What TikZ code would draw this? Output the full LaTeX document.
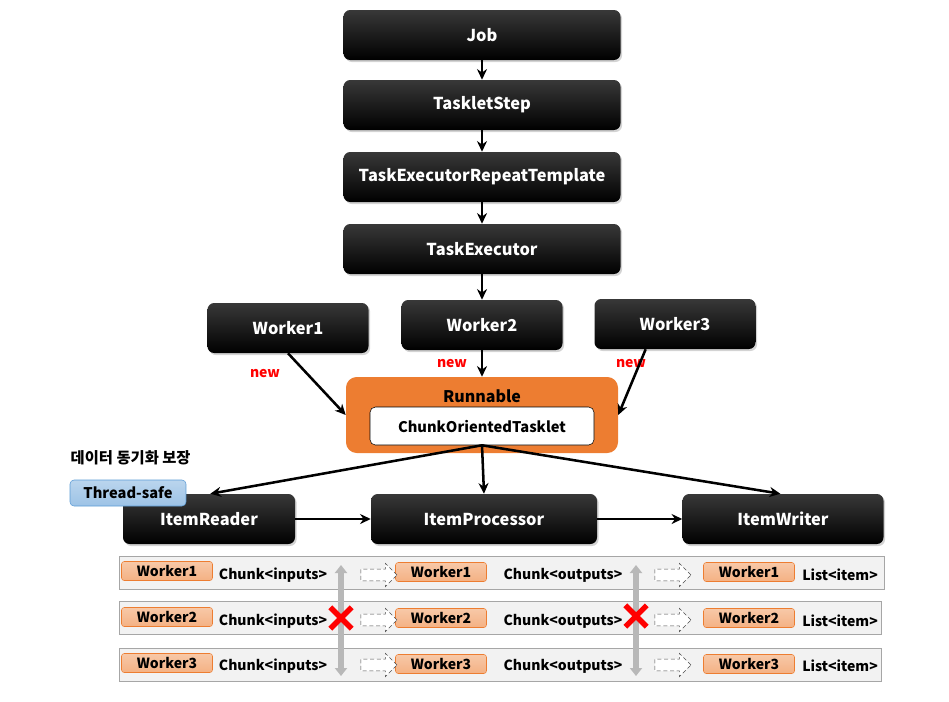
\documentclass[tikz,border=0pt]{standalone}
\usepackage{fontspec}
\setmainfont{Noto Sans CJK KR}
\usetikzlibrary{positioning}
\usetikzlibrary{arrows.meta}
\usetikzlibrary{shadows}
\usetikzlibrary{shapes.arrows}
\usetikzlibrary{shapes.misc}
\definecolor{runorange}{HTML}{ED7D31}
\definecolor{cellorange}{HTML}{F4B183}
\definecolor{safeblue}{HTML}{9DC3E6}
\definecolor{safeedge}{HTML}{5B9BD5}
\definecolor{rowgray}{HTML}{F2F2F2}
\definecolor{newred}{HTML}{FF0000}

\begin{document}
\begin{tikzpicture}[x=0.75pt,y=-0.75pt]
        \tikzset{blackbox/.style={shape=rectangle,rounded corners=5pt,top color=black!78,middle color=black,bottom color=black,text=white,font=\bfseries\fontsize{12.3}{14}\selectfont,minimum height=37.5pt,drop shadow={opacity=0.35,shadow xshift=1.2pt,shadow yshift=-1.5pt}}}
        \tikzset{link/.style={->,>={Stealth[length=8pt,width=7.5pt]},line width=1.9pt}}
        \tikzset{rowbox/.style={draw=black!35,fill=rowgray,minimum height=24.75pt}}
        \tikzset{cell/.style={draw=runorange,rounded corners=2pt,top color=cellorange!70,bottom color=cellorange,minimum width=68.25pt,minimum height=14.25pt,inner sep=0pt,font=\bfseries\fontsize{10.5}{12}\selectfont}}
        \tikzset{rowtext/.style={font=\bfseries\fontsize{10.5}{12}\selectfont}}
        \tikzset{hollow/.style={shape=single arrow,draw=black!70,densely dashed,fill=white,minimum height=27pt,inner sep=4.2pt,single arrow head extend=4.3pt,single arrow head indent=0pt}}
        \tikzset{lock/.style={line width=4pt,draw=black!28,{Triangle[length=6pt,width=9pt]}-{Triangle[length=6pt,width=9pt]}}}
        \tikzset{block/.style={shape=cross out,draw=newred,line width=4pt,minimum size=12pt,inner sep=0pt}}
        \tikzset{newtag/.style={text=newred,font=\bfseries\fontsize{10.5}{12}\selectfont}}

        \useasboundingbox (0,0) rectangle (949,701);

        \node[blackbox,minimum width=207.75pt] (job)  at (482,35)  {Job};
        \node[blackbox,minimum width=207.75pt] (step) at (482,105) {TaskletStep};
        \node[blackbox,minimum width=207.75pt] (tmpl) at (482,177) {TaskExecutorRepeatTemplate};
        \node[blackbox,minimum width=207.75pt] (exec) at (482,249) {TaskExecutor};

        \node[blackbox,minimum width=120.75pt] (w1) at (288,328) {Worker1};
        \node[blackbox,minimum width=120.75pt] (w2) at (482,325) {Worker2};
        \node[blackbox,minimum width=120.75pt] (w3) at (675,324) {Worker3};

        \node[fill=runorange,rounded corners=8pt,minimum width=204pt,minimum height=57pt] (run) at (482,415) {};
        \node[font=\bfseries\fontsize{12}{14}\selectfont] (runtitle) at (482,396) {Runnable};
        \node[draw=black,fill=white,rounded corners=4pt,minimum width=168pt,minimum height=28.5pt,font=\bfseries\fontsize{11}{13}\selectfont] (tasklet) at (482,426) {ChunkOrientedTasklet};

        \node[newtag] (new1) at (265,374) {new};
        \node[newtag] (new2) at (452,364) {new};
        \node[newtag] (new3) at (631,364) {new};

        \node[blackbox,minimum width=129pt]    (reader) at (209,519) {ItemReader};
        \node[blackbox,minimum width=169.5pt]  (proc)   at (484,519) {ItemProcessor};
        \node[blackbox,minimum width=150.75pt] (writer) at (783,519) {ItemWriter};

        \node[anchor=west,font=\bfseries\fontsize{11.5}{13}\selectfont] (sync) at (66,458) {데이터 동기화 보장};
        \node[draw=safeedge,rounded corners=3pt,top color=safeblue!70,bottom color=safeblue,minimum width=87pt,minimum height=19.5pt,inner sep=0pt,font=\bfseries\fontsize{11}{13}\selectfont] (safe) at (128,493) {Thread-safe};

        \path[link] (job) edge (step);
        \path[link] (step) edge (tmpl);
        \path[link] (tmpl) edge (exec);
        \path[link] (exec) edge (w2);
        \path[link] (w1.south) edge (run.west);
        \path[link] (w2) edge (run);
        \path[link] ([xshift=-22pt]w3.south) edge (run.east);
        \path[link] (tasklet.south) edge ([xshift=1pt]reader.north);
        \path[link] (tasklet.south) edge (proc.north);
        \path[link] (tasklet.south) edge ([xshift=-2pt]writer.north);
        \path[link] (reader) edge (proc);
        \path[link] (proc) edge (writer);

        \node[rowbox,minimum width=573.75pt] (row1) at (501.5,572.5) {};
        \node[rowbox,minimum width=571.5pt]  (row2) at (500,618) {};
        \node[rowbox,minimum width=571.5pt]  (row3) at (500,665) {};

        \node[cell] (r1a) at (167,571) {Worker1};
        \node[cell] (r2a) at (167,617) {Worker2};
        \node[cell] (r3a) at (167,663) {Worker3};
        \node[cell] (r1b) at (441,572) {Worker1};
        \node[cell] (r2b) at (441,618) {Worker2};
        \node[cell] (r3b) at (441,664) {Worker3};
        \node[cell] (r1c) at (749,572) {Worker1};
        \node[cell] (r2c) at (749,618) {Worker2};
        \node[cell] (r3c) at (749,664) {Worker3};

        \node[rowtext] (in1) at (273,575) {Chunk<inputs>};
        \node[rowtext] (in2) at (273,621) {Chunk<inputs>};
        \node[rowtext] (in3) at (273,666) {Chunk<inputs>};
        \node[rowtext] (out1) at (563,575) {Chunk<outputs>};
        \node[rowtext] (out2) at (563,621) {Chunk<outputs>};
        \node[rowtext] (out3) at (563,666) {Chunk<outputs>};
        \node[rowtext] (list1) at (840,575) {List<item>};
        \node[rowtext] (list2) at (840,621) {List<item>};
        \node[rowtext] (list3) at (840,666) {List<item>};

        \node[hollow] (pa1) at (376,575) {};
        \node[hollow] (pa2) at (376,620) {};
        \node[hollow] (pa3) at (376,665) {};
        \node[hollow] (pb1) at (670,575) {};
        \node[hollow] (pb2) at (670,620) {};
        \node[hollow] (pb3) at (670,665) {};

        \coordinate (locka) at (341,565);
        \coordinate (lockb) at (341,676);
        \coordinate (lockc) at (636,565);
        \coordinate (lockd) at (636,676);
        \draw[lock] (locka) -- (lockb);
        \draw[lock] (lockc) -- (lockd);
        \node[block] (xa) at (341,618) {};
        \node[block] (xb) at (636,616) {};
    \end{tikzpicture}
\end{document}
